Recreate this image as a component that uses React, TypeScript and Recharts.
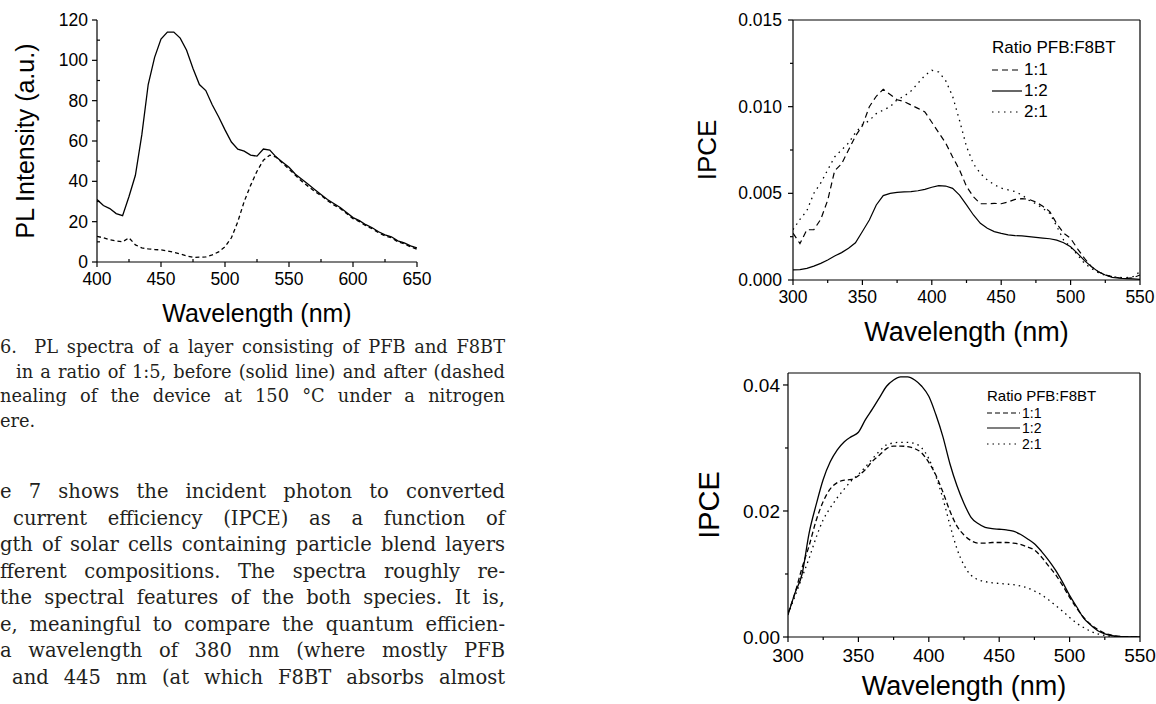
import React from 'react';
import { LineChart, Line, XAxis, YAxis, Label, Legend, ReferenceLine } from 'recharts';

const FONT = '"Liberation Sans", Arial, Helvetica, sans-serif';
const SERIF = '"DejaVu Serif", serif';
const INK = '#000';

// Fig. 6: PL intensity (a.u.) vs wavelength (nm)
const plWavelength = [
  400, 405, 410, 415, 420, 425, 430, 435, 440, 445, 450, 455, 460, 465, 470, 475, 480,
  485, 490, 495, 500, 505, 510, 515, 520, 525, 530, 535, 540, 545, 550, 555, 560, 565,
  570, 575, 580, 585, 590, 595, 600, 605, 610, 615, 620, 625, 630, 635, 640, 645, 650,
];
const plBefore = [
  31, 28, 26.5, 24, 23, 32.5, 43, 63, 88, 101.5, 110.5, 114, 114, 111, 105, 96, 88,
  85, 78, 72, 65.5, 59.5, 56, 55, 53, 52.5, 56, 55.5, 52, 49.5, 47, 43.5, 41, 38.5,
  36, 33.5, 31, 29, 27, 24.5, 22, 20.5, 18.5, 17, 15, 13.5, 12.5, 10.5, 9.5, 8, 7,
];
const plAfter = [
  12.7, 12, 11, 10.5, 10, 12, 8.5, 7, 6.5, 6.2, 6, 5.5, 4.8, 4, 3, 2.3, 2.4,
  2.5, 3.5, 5, 7.5, 12, 20, 30, 38, 45, 50.5, 53, 52, 49, 46, 43, 40, 37.5,
  35, 33, 30.5, 28.3, 26.5, 24, 21.5, 20, 18, 16.5, 14.5, 13, 12, 10, 9, 7.5, 6.3,
];
const plXTicks = [400, 450, 500, 550, 600, 650];
const plXMinor = [425, 475, 525, 575, 625];
const plYTicks = [0, 20, 40, 60, 80, 100, 120];
const plYMinor = [10, 30, 50, 70, 90, 110];

// Fig. 7: IPCE vs wavelength, values below in units of 1e-3
const ipceWavelength = [
  300, 305, 310, 315, 320, 325, 330, 335, 340, 345, 350, 355, 360, 365, 370, 375, 380,
  385, 390, 395, 400, 405, 410, 415, 420, 425, 430, 435, 440, 445, 450, 455, 460, 465,
  470, 475, 480, 485, 490, 495, 500, 505, 510, 515, 520, 525, 530, 535, 540, 545, 550,
];
const ratioNames = ['1:1', '1:2', '2:1'];

// upper panel
const upper11 = [
  2.7, 2.1, 2.9, 2.9, 3.5, 4.6, 6.3, 6.7, 7.5, 8.3, 8.9, 10.0, 10.6, 11.0, 10.7, 10.4, 10.3,
  10.1, 9.9, 9.7, 9.1, 8.5, 7.9, 7.1, 6.35, 5.4, 4.8, 4.4, 4.4, 4.42, 4.4, 4.5, 4.65, 4.7,
  4.65, 4.5, 4.25, 3.95, 3.25, 2.7, 2.4, 1.8, 1.25, 0.77, 0.48, 0.29, 0.19, 0.13, 0.1, 0.13, 0.29,
];
const upper12 = [
  0.58, 0.6, 0.67, 0.8, 0.96, 1.15, 1.38, 1.58, 1.83, 2.15, 2.8, 3.46, 4.33, 4.87, 5.0, 5.06, 5.08,
  5.1, 5.15, 5.23, 5.35, 5.44, 5.42, 5.29, 4.9, 4.33, 3.75, 3.27, 2.98, 2.79, 2.69, 2.6, 2.56, 2.54,
  2.5, 2.46, 2.42, 2.38, 2.3, 2.15, 1.92, 1.54, 1.12, 0.77, 0.48, 0.29, 0.15, 0.1, 0.08, 0.06, 0.04,
];
const upper21 = [
  2.9, 3.5, 4.0, 5.0, 5.6, 6.35, 7.1, 7.5, 7.9, 8.5, 8.95, 9.2, 9.6, 9.8, 10.0, 10.4, 10.6,
  10.9, 11.35, 11.8, 12.1, 12.0, 11.5, 10.6, 9.2, 7.7, 6.7, 6.15, 5.77, 5.5, 5.3, 5.2, 5.1, 4.9,
  4.6, 4.4, 4.13, 3.85, 3.1, 2.3, 1.9, 1.45, 0.96, 0.67, 0.42, 0.27, 0.19, 0.15, 0.13, 0.19, 0.48,
];
const upperYTicks = [0, 0.005, 0.01, 0.015];
const upperYMinor = [0.0025, 0.0075, 0.0125];

// lower panel
const lower11 = [
  3.8, 7.0, 11.0, 14.5, 18.5, 21.5, 23.5, 24.5, 24.9, 25.0, 25.6, 26.6, 27.9, 28.9, 29.9, 30.3, 30.3,
  30.2, 29.9, 29.2, 27.7, 25.7, 23.0, 20.0, 17.6, 16.2, 15.3, 14.9, 14.9, 15.0, 15.0, 15.0, 14.9, 14.7,
  14.3, 13.8, 12.7, 11.3, 9.9, 8.2, 6.3, 4.6, 3.1, 2.0, 1.2, 0.6, 0.3, 0.1, 0.05, 0.02, 0,
];
const lower12 = [
  3.5, 7.0, 10.0, 16.5, 21.0, 25.0, 27.8, 29.7, 31.0, 31.8, 32.5, 34.5, 36.2, 38.0, 39.8, 40.8, 41.3,
  41.3, 40.8, 39.8, 38.2, 35.3, 31.8, 27.5, 24.0, 21.2, 19.0, 18.0, 17.4, 17.2, 17.1, 17.0, 16.8, 16.3,
  15.6, 14.8, 13.6, 12.2, 10.6, 8.7, 6.6, 4.8, 3.0, 1.9, 1.0, 0.5, 0.2, 0.1, 0.05, 0.02, 0,
];
const lower21 = [
  3.6, 6.5, 9.5, 12.5, 15.8, 18.6, 20.5, 22.1, 23.5, 24.8, 25.8, 27.0, 28.3, 29.5, 30.5, 30.8, 30.9,
  30.9, 30.7, 30.0, 28.3, 25.5, 22.0, 17.8, 14.0, 11.4, 9.8, 9.1, 8.8, 8.6, 8.5, 8.4, 8.3, 8.1,
  7.8, 7.3, 6.7, 5.9, 5.0, 4.1, 3.1, 2.2, 1.5, 0.9, 0.5, 0.25, 0.1, 0.05, 0.02, 0.01, 0,
];
const lowerYTicks = [0, 0.02, 0.04];
const lowerYMinor = [0.01, 0.03];

const ipceXTicks = [300, 350, 400, 450, 500, 550];
const ipceXMinor = [325, 375, 425, 475, 525];

const plRows = plWavelength.map((wl, i) => ({ wl, before: plBefore[i], after: plAfter[i] }));
const upperRows = ipceWavelength.map((wl, i) => ({
  wl, r11: upper11[i] / 1000, r12: upper12[i] / 1000, r21: upper21[i] / 1000,
}));
const lowerRows = ipceWavelength.map((wl, i) => ({
  wl, r11: lower11[i] / 1000, r12: lower12[i] / 1000, r21: lower21[i] / 1000,
}));

// text of the scanned page around the figures
const captionLines = [
  { text: '6.\u00a0 PL spectra of a layer consisting of PFB and F8BT', left: 0 },
  { text: 'in a ratio of 1:5, before (solid line) and after (dashed', left: 16 },
  { text: 'nealing of the device at 150 °C under a nitrogen', left: 0 },
  { text: 'ere.', left: 0, last: true },
];
const bodyLines = [
  { text: 'e 7 shows the incident photon to converted', left: 0 },
  { text: 'current efficiency (IPCE) as a function of', left: 13 },
  { text: 'gth of solar cells containing particle blend layers', left: 0 },
  { text: 'fferent compositions. The spectra roughly re-', left: 0 },
  { text: 'the spectral features of the both species. It is,', left: 0 },
  { text: 'e, meaningful to compare the quantum efficien-', left: 0 },
  { text: 'a wavelength of 380 nm (where mostly PFB', left: 0 },
  { text: 'and 445 nm (at which F8BT absorbs almost', left: 12 },
];

type TickOpts = { len: number; minorLen: number; minorIn: boolean; gap: number; size: number };

function makeXTick(major: number[], fmt: (v: number) => string, o: TickOpts) {
  return function XTick(props: any) {
    const { x, y, payload } = props;
    const v = payload.value;
    const isMajor = major.includes(v);
    const len = isMajor ? o.len : o.minorIn ? -o.minorLen : o.minorLen;
    return (
      <g>
        <line x1={x} y1={y} x2={x} y2={y + len} stroke={INK} strokeWidth={1.2} />
        {isMajor && (
          <text x={x} y={y + o.gap} dy="0.35em" textAnchor="middle" fontSize={o.size} fontFamily={FONT} fill={INK}>
            {fmt(v)}
          </text>
        )}
      </g>
    );
  };
}

function makeYTick(major: number[], fmt: (v: number) => string, o: TickOpts) {
  return function YTick(props: any) {
    const { x, y, payload } = props;
    const v = payload.value;
    const isMajor = major.includes(v);
    const len = isMajor ? o.len : o.minorIn ? -o.minorLen : o.minorLen;
    return (
      <g>
        <line x1={x} y1={y} x2={x - len} y2={y} stroke={INK} strokeWidth={1.2} />
        {isMajor && (
          <text x={x - o.gap} y={y} dy="0.35em" textAnchor="end" fontSize={o.size} fontFamily={FONT} fill={INK}>
            {fmt(v)}
          </text>
        )}
      </g>
    );
  };
}

function xTitle(text: string, dy: number, size: number) {
  return function XTitle(props: any) {
    const { x, y, width } = props.viewBox;
    return (
      <text x={x + width / 2} y={y + dy} dy="0.35em" textAnchor="middle" fontSize={size} fontFamily={FONT} fill={INK}>
        {text}
      </text>
    );
  };
}

function yTitle(text: string, dx: number, size: number) {
  return function YTitle(props: any) {
    const { x, y, height } = props.viewBox;
    const cx = x + dx;
    const cy = y + height / 2;
    return (
      <text x={cx} y={cy} dy="0.35em" textAnchor="middle" transform={`rotate(-90 ${cx} ${cy})`}
        fontSize={size} fontFamily={FONT} fill={INK}>
        {text}
      </text>
    );
  };
}

function RatioLegend(props: any) {
  const { payload, titleSize, itemSize, titleH, rowH, sample, dashes } = props;
  const items = [...(payload || [])].sort(
    (a: any, b: any) => ratioNames.indexOf(a.value) - ratioNames.indexOf(b.value),
  );
  return (
    <div style={{ fontFamily: FONT, color: INK }}>
      <div style={{ fontSize: titleSize, height: titleH, lineHeight: `${titleH}px`, whiteSpace: 'nowrap' }}>
        Ratio PFB:F8BT
      </div>
      {items.map((it: any) => (
        <div key={it.value} style={{ display: 'flex', alignItems: 'center', height: rowH }}>
          <svg width={sample} height={4} style={{ display: 'block' }}>
            <line x1={0} y1={2} x2={sample} y2={2} stroke={INK} strokeWidth={1.2}
              strokeDasharray={dashes[it.value]} />
          </svg>
          <span style={{ fontSize: itemSize, marginLeft: 2, lineHeight: 1 }}>{it.value}</span>
        </div>
      ))}
    </div>
  );
}

const upperDash: Record<string, string | undefined> = { '1:1': '6 4', '1:2': undefined, '2:1': '1.5 4.5' };
const lowerDash: Record<string, string | undefined> = { '1:1': '5 3', '1:2': undefined, '2:1': '1.5 4' };

function TextLines({ lines, top, lineH, size }: { lines: any[]; top: number; lineH: number; size: number }) {
  return (
    <>
      {lines.map((l, i) => (
        <div
          key={i}
          style={{
            position: 'absolute',
            left: l.left,
            top: top + i * lineH,
            width: 505 - l.left,
            fontFamily: SERIF,
            fontSize: size,
            lineHeight: `${lineH}px`,
            color: '#231f20',
            whiteSpace: 'nowrap',
            textAlign: 'justify',
            textAlignLast: l.last ? 'left' : 'justify',
          }}
        >
          {l.text}
        </div>
      ))}
    </>
  );
}

export default function App() {
  const f0 = (v: number) => String(v);
  const f3 = (v: number) => v.toFixed(3);
  const f2 = (v: number) => v.toFixed(2);

  return (
    <div style={{ position: 'absolute', left: 0, top: 0, width: 1156, height: 704, overflow: 'hidden', background: '#fff' }}>
      {/* Fig. 6 */}
      <div style={{ position: 'absolute', left: 0, top: 0 }}>
        <LineChart width={440} height={340} data={plRows} margin={{ top: 20, right: 23, bottom: 0, left: 0 }}>
          <XAxis dataKey="wl" type="number" domain={[400, 650]} ticks={[...plXTicks, ...plXMinor]} interval={0}
            allowDataOverflow height={78} stroke={INK} axisLine={{ strokeWidth: 1.2 }} tickLine={false}
            tickSize={0} tickMargin={0}
            tick={makeXTick(plXTicks, f0, { len: 5, minorLen: 3, minorIn: true, gap: 17, size: 17.5 })}>
            <Label content={xTitle('Wavelength (nm)', 51, 25)} />
          </XAxis>
          <YAxis type="number" domain={[0, 120]} ticks={[...plYTicks, ...plYMinor]} interval={0}
            allowDataOverflow width={97} stroke={INK} axisLine={{ strokeWidth: 1.2 }} tickLine={false}
            tickSize={0} tickMargin={0}
            tick={makeYTick(plYTicks, f0, { len: 5, minorLen: 3, minorIn: true, gap: 9, size: 17.5 })}>
            <Label content={yTitle('PL Intensity (a.u.)', 25, 25)} />
          </YAxis>
          <Line type="linear" dataKey="before" stroke={INK} strokeWidth={1.3} dot={false} isAnimationActive={false} />
          <Line type="linear" dataKey="after" stroke={INK} strokeWidth={1.3} strokeDasharray="4 3" dot={false}
            isAnimationActive={false} />
        </LineChart>
      </div>

      <TextLines lines={captionLines} top={335} lineH={24.5} size={17.8} />
      <TextLines lines={bodyLines} top={479} lineH={26.5} size={19.5} />

      {/* Fig. 7, upper panel */}
      <div style={{ position: 'absolute', left: 680, top: 0 }}>
        <LineChart width={476} height={350} data={upperRows} margin={{ top: 20, right: 16, bottom: 0, left: 0 }}>
          <XAxis dataKey="wl" type="number" domain={[300, 550]} ticks={[...ipceXTicks, ...ipceXMinor]} interval={0}
            allowDataOverflow height={70} stroke={INK} axisLine={{ strokeWidth: 1.2 }} tickLine={false}
            tickSize={0} tickMargin={0}
            tick={makeXTick(ipceXTicks, f0, { len: 5, minorLen: 3, minorIn: false, gap: 17, size: 17.5 })}>
            <Label content={xTitle('Wavelength (nm)', 52, 27)} />
          </XAxis>
          <YAxis type="number" domain={[0, 0.015]} ticks={[...upperYTicks, ...upperYMinor]} interval={0}
            allowDataOverflow width={113} stroke={INK} axisLine={{ strokeWidth: 1.2 }} tickLine={false}
            tickSize={0} tickMargin={0}
            tick={makeYTick(upperYTicks, f3, { len: 5, minorLen: 3, minorIn: false, gap: 11, size: 17.5 })}>
            <Label content={yTitle('IPCE', 27, 26)} />
          </YAxis>
          <ReferenceLine y={0.015} stroke={INK} strokeWidth={1.2} />
          <ReferenceLine x={550} stroke={INK} strokeWidth={1.2} />
          <Line type="linear" dataKey="r11" name="1:1" stroke={INK} strokeWidth={1.2} strokeDasharray={upperDash['1:1']}
            dot={false} isAnimationActive={false} />
          <Line type="linear" dataKey="r12" name="1:2" stroke={INK} strokeWidth={1.2} dot={false} isAnimationActive={false} />
          <Line type="linear" dataKey="r21" name="2:1" stroke={INK} strokeWidth={1.3} strokeDasharray={upperDash['2:1']}
            dot={false} isAnimationActive={false} />
          <Legend layout="vertical" align="center" verticalAlign="middle"
            wrapperStyle={{ left: 312, top: 37, width: 140 }}
            content={(p: any) => (
              <RatioLegend payload={p.payload} titleSize={17} itemSize={17} titleH={22} rowH={21} sample={30}
                dashes={upperDash} />
            )} />
        </LineChart>
      </div>

      {/* Fig. 7, lower panel */}
      <div style={{ position: 'absolute', left: 680, top: 350 }}>
        <LineChart width={476} height={354} data={lowerRows} margin={{ top: 23, right: 16, bottom: 0, left: 0 }}>
          <XAxis dataKey="wl" type="number" domain={[300, 550]} ticks={[...ipceXTicks, ...ipceXMinor]} interval={0}
            allowDataOverflow height={67} stroke={INK} axisLine={{ strokeWidth: 1.2 }} tickLine={false}
            tickSize={0} tickMargin={0}
            tick={makeXTick(ipceXTicks, f0, { len: 5, minorLen: 3, minorIn: false, gap: 18, size: 19 })}>
            <Label content={xTitle('Wavelength (nm)', 49, 27)} />
          </XAxis>
          <YAxis type="number" domain={[0, 0.0419]} ticks={[...lowerYTicks, ...lowerYMinor]} interval={0}
            allowDataOverflow width={108} stroke={INK} axisLine={{ strokeWidth: 1.2 }} tickLine={false}
            tickSize={0} tickMargin={0}
            tick={makeYTick(lowerYTicks, f2, { len: 5, minorLen: 3, minorIn: false, gap: 8, size: 19 })}>
            <Label content={yTitle('IPCE', 29, 29)} />
          </YAxis>
          <ReferenceLine y={0.0419} stroke={INK} strokeWidth={1.2} />
          <ReferenceLine x={550} stroke={INK} strokeWidth={1.2} />
          <Line type="monotone" dataKey="r11" name="1:1" stroke={INK} strokeWidth={1.3} strokeDasharray={lowerDash['1:1']}
            dot={false} isAnimationActive={false} />
          <Line type="monotone" dataKey="r12" name="1:2" stroke={INK} strokeWidth={1.3} dot={false} isAnimationActive={false} />
          <Line type="monotone" dataKey="r21" name="2:1" stroke={INK} strokeWidth={1.3} strokeDasharray={lowerDash['2:1']}
            dot={false} isAnimationActive={false} />
          <Legend layout="vertical" align="center" verticalAlign="middle"
            wrapperStyle={{ left: 307, top: 37, width: 130 }}
            content={(p: any) => (
              <RatioLegend payload={p.payload} titleSize={15} itemSize={14} titleH={18} rowH={15.5} sample={33}
                dashes={lowerDash} />
            )} />
        </LineChart>
      </div>
    </div>
  );
}
